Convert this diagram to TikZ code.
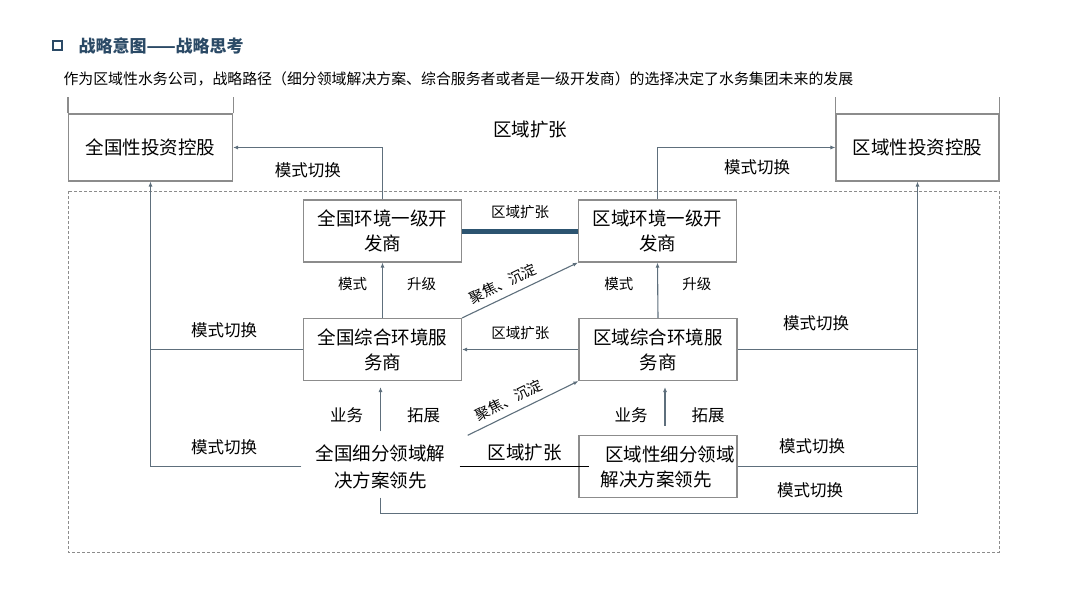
\documentclass[tikz,border=0pt]{standalone}
\usepackage{fontspec}
\setmainfont{Noto Sans CJK SC}
\usetikzlibrary{arrows.meta}

\definecolor{linec}{HTML}{5E6F7C}
\definecolor{boxc}{HTML}{8C8C8C}
\definecolor{barc}{HTML}{2C5470}
\definecolor{titlec}{HTML}{2B4A66}

\tikzset{
  box/.style={draw=boxc, line width=1.1pt, minimum width=158pt, minimum height=62pt, inner sep=0pt, align=center, font=\fontsize{18.5}{25}\selectfont},
  plain/.style={minimum width=158pt, minimum height=62pt, inner sep=0pt, align=center, font=\fontsize{18.5}{27}\selectfont},
  conn/.style={draw=linec, line width=1.1pt},
  arr/.style={conn, -{Latex[length=5pt,width=4pt]}},
  lbl/.style={font=\fontsize{16.5}{18}\selectfont},
  slbl/.style={font=\fontsize{14.5}{16}\selectfont}
}

\begin{document}
\begin{tikzpicture}[x=1pt,y=-1pt]
\useasboundingbox (0,0) rectangle (1080,608);

% title
\draw[titlec, line width=1.6pt] (53,41) rectangle (62,50);
\node[anchor=west, text=titlec, font=\fontsize{17}{20}\selectfont\bfseries] (title) at (75,45.5) {战略意图——战略思考};
\node[anchor=west, font=\fontsize{14.9}{18}\selectfont] (sub) at (60,79) {作为区域性水务公司，战略路径（细分领域解决方案、综合服务者或者是一级开发商）的选择决定了水务集团未来的发展};

% frame
\draw[boxc, dash pattern=on 3pt off 2pt, line width=0.8pt] (68,191) rectangle (999,552);

% holding boxes
\node[box, minimum width=164pt, minimum height=67pt] (qgkg) at (150.5,147.5) {全国性投资控股};
\node[box, minimum width=163pt, minimum height=67pt] (qykg) at (917.5,147.5) {区域性投资控股};
\draw[boxc, line width=1.1pt] (qgkg.north west) -- ++(0,-16);
\draw[boxc, line width=1.1pt] (qgkg.north east) -- ++(0,-16);
\draw[boxc, line width=1.1pt] (qykg.north west) -- ++(0,-16);
\draw[boxc, line width=1.1pt] (qykg.north east) -- ++(0,-16);
\node[font=\fontsize{18.5}{20}\selectfont] (kz) at (530,130) {区域扩张};

% inner nodes
\node[box] (qgkf) at (382.5,231) {全国环境一级开\\发商};
\node[box] (qykf) at (657.5,231) {区域环境一级开\\发商};
\node[box] (qgfw) at (382.5,349.5) {全国综合环境服\\务商};
\node[box] (qyfw) at (658,349.5) {区域综合环境服\\务商};
\node[plain] (qgxf) at (380.5,466.5) {全国细分领域解\\决方案领先};
\node[box, text width=158pt] (qyxf) at (658,466.5) {\hspace*{24pt}区域性细分领域\\\hspace*{-4pt}解决方案领先};

% upper row
\draw[barc, line width=5pt] (qgkf.east) -- (qykf.west) node[midway, above=6pt, text=black, slbl] {区域扩张};
\draw[arr] (qgkf.north) |- (qgkg.east) node[pos=0.75, below=11pt, text=black, lbl] {模式切换};
\draw[arr] (qykf.north) |- (qykg.west) node[pos=0.78, below=8pt, text=black, lbl] {模式切换};

% upgrade arrows
\draw[arr] (qgfw.north) -- (qgkf.south)
  node[midway, xshift=-30pt, yshift=6pt, text=black, slbl] {模式}
  node[midway, xshift=39pt, yshift=6pt, text=black, slbl] {升级};
\draw[arr] (qyfw.north) -- (qykf.south)
  node[midway, xshift=-39pt, yshift=6pt, text=black, slbl] {模式}
  node[midway, xshift=39pt, yshift=6pt, text=black, slbl] {升级};
\draw[arr, shorten >=6pt] ([yshift=4pt]qgxf.north) -- ([xshift=-2pt]qgfw.south)
  node[midway, xshift=-34pt, yshift=-9pt, text=black, lbl] {业务}
  node[midway, xshift=43pt, yshift=-9pt, text=black, lbl] {拓展};
\draw[arr, shorten >=6pt] ([xshift=7pt,yshift=9pt]qyxf.north) -- ([xshift=7pt]qyfw.south)
  node[midway, xshift=-34pt, yshift=-12pt, text=black, lbl] {业务}
  node[midway, xshift=43pt, yshift=-12pt, text=black, lbl] {拓展};

% diagonal and horizontal links
\draw[arr] (qgfw.north east) -- (qykf.south west) node[pos=0.4, above=3pt, sloped, text=black, slbl] {聚焦、沉淀};
\draw[arr] ([xshift=8pt]qgxf.north east) -- (qyfw.south west) node[pos=0.42, above=3pt, sloped, text=black, slbl] {聚焦、沉淀};
\draw[arr] (qyfw.west) -- (qgfw.east) node[midway, above=6pt, text=black, slbl] {区域扩张};
\draw[black, line width=1.1pt] (qgxf.east) -- ([xshift=11pt]qyxf.west) node[midway, above=2pt, font=\fontsize{18.5}{20}\selectfont] {区域扩张};

% mode switch, left
\draw[arr] (qgxf.west) -| (qgkg.south);
\draw[conn] (qgfw.west) -- (qgfw.west -| qgkg.south);
\node[lbl] (ms1) at (224,330) {模式切换};
\node[lbl] (ms2) at (224,447) {模式切换};

% mode switch, right
\draw[arr] (qgxf.south) -- ++(0,16) -| (qykg.south);
\draw[conn] (qyfw.east) -- (qyfw.east -| qykg.south);
\draw[conn] (qyxf.east) -- (qyxf.east -| qykg.south);
\node[lbl] (ms3) at (816,323) {模式切换};
\node[lbl] (ms4) at (812,446) {模式切换};
\node[lbl] (ms5) at (810,490) {模式切换};

\end{tikzpicture}
\end{document}
